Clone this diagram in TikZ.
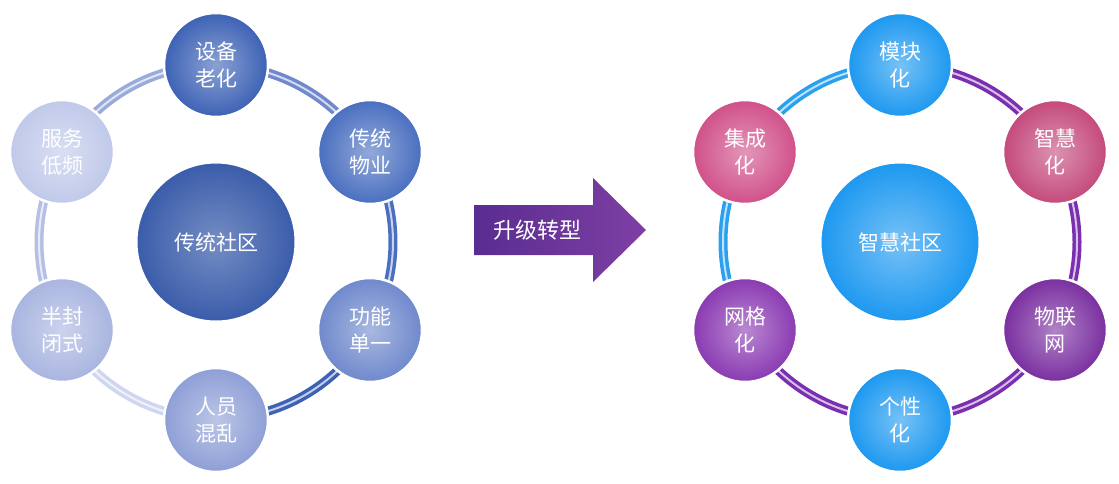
\documentclass[tikz,border=0pt]{standalone}
\usepackage{fontspec}
\newfontfamily\cjk{Noto Sans CJK SC}
\begin{document}
\begin{tikzpicture}[x=1pt,y=-1pt,
 sat/.style={circle,minimum size=104pt,inner sep=0pt,draw=white,line width=2.5pt,text=white,font=\cjk\fontsize{21}{27}\selectfont,align=center},
 ctr/.style={circle,minimum size=160pt,inner sep=0pt,draw=white,line width=3pt,text=white,font=\cjk\fontsize{21}{26}\selectfont},
 ring/.style={line width=9pt}]
\useasboundingbox (0,0) rectangle (1119,484);
% left rings
\foreach \a/\b/\c in {90/30/3D62B5,30/-30/4A6FC0,-30/-90/7088CC,-90/-150/9AAADB,-150/-210/B3BFE5,-210/-270/CFD6EF}{
 \definecolor{rc}{HTML}{\c}
 \draw[ring,rc] (216,242) ++(\a:177) arc[start angle=\a,end angle=\b,radius=177];
 \draw[line width=2pt,white,opacity=0.7] (216,242) ++(\a:177) arc[start angle=\a,end angle=\b,radius=177];}
\foreach \a/\b/\c in {90/-30/7A2FB0,-30/-90/7A2FB0,-90/-210/2AA0F0,-210/-270/7A2FB0}{
 \definecolor{rc}{HTML}{\c}
 \draw[ring,rc] (900,242) ++(\a:177) arc[start angle=\a,end angle=\b,radius=177];
 \draw[line width=2pt,white,opacity=0.7] (900,242) ++(\a:177) arc[start angle=\a,end angle=\b,radius=177];}
\definecolor{c1}{HTML}{3A5CAA}
\node[ctr,inner color=c1!70!white,outer color=c1] (lc) at (216,242) {传统社区};
\foreach \n/\x/\y/\c/\t in {l1/216/65/3D62B5/设备\\老化,l2/370/152/4A6FC0/传统\\物业,l3/370/330/6F89CC/功能\\单一,l4/216/420/8E9FD6/人员\\混乱,l5/62/330/A9B5E0/半封\\闭式,l6/62/152/C0C9EA/服务\\低频}{
 \definecolor{sc}{HTML}{\c}
 \node[sat,inner color=sc!60!white,outer color=sc] (\n) at (\x,\y) {\t};}
\definecolor{c2}{HTML}{1C98F0}
\node[ctr,inner color=c2!60!white,outer color=c2] (rc) at (900,242) {智慧社区};
\foreach \n/\x/\y/\c/\t in {r1/900/65/1C98F0/模块\\化,r2/1055/152/C44A7C/智慧\\化,r3/1055/330/7A2FA0/物联\\网,r4/900/420/1C98F0/个性\\化,r5/745/330/8A3AB2/网格\\化,r6/745/152/D0508A/集成\\化}{
 \definecolor{sc}{HTML}{\c}
 \node[sat,inner color=sc!60!white,outer color=sc] (\n) at (\x,\y) {\t};}
% arrow
\definecolor{a1}{HTML}{5A2D91}\definecolor{a2}{HTML}{7E3FA3}
\shade[left color=a1,right color=a2] (474,205) -- (593,205) -- (593,178) -- (646,230) -- (593,282) -- (593,255) -- (474,255) -- cycle;
\node[text=white,font=\cjk\fontsize{22}{26}\selectfont] (ar) at (537,230) {升级转型};
\end{tikzpicture}
\end{document}
